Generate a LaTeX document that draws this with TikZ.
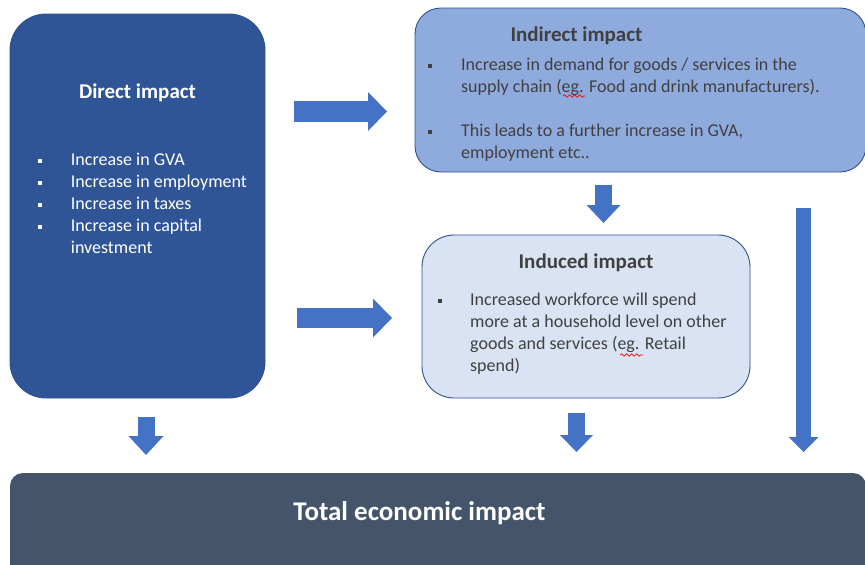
\documentclass[tikz,border=0pt]{standalone}
\usepackage{fontspec}
\setmainfont{Carlito}
\usepackage{xcolor}
\usetikzlibrary{arrows.meta,positioning,decorations.pathmorphing}

\definecolor{directblue}{HTML}{2F5597}
\definecolor{indirectblue}{HTML}{8FAADC}
\definecolor{inducedblue}{HTML}{DAE3F3}
\definecolor{totalslate}{HTML}{44546A}
\definecolor{arrowblue}{HTML}{4472C4}
\definecolor{edgeblue}{HTML}{2F528F}
\definecolor{textgray}{HTML}{404040}

\begin{document}
\begin{tikzpicture}[x=1pt, y=-1pt,
  box/.style={draw=edgeblue, line width=0.9pt, inner sep=0pt},
  title/.style={font=\fontsize{21}{25}\selectfont\bfseries, anchor=base, inner sep=0pt},
  body/.style={font=\fontsize{18}{22}\selectfont, align=left, anchor=base west, inner sep=0pt},
  bul/.style={fill, minimum size=4pt, inner sep=0pt},
  squiggle/.style={red, line width=0.7pt, decorate, decoration={snake, amplitude=1.2pt, segment length=5pt}},
  blockarrow/.style n args={3}{draw=arrowblue, line width=#1, -{Triangle[length=#2, width=#3, line width=0pt]}}]
  \clip (0,0) rectangle (865,565);

  % Boxes
  \node[box, fill=directblue, rounded corners=36pt, minimum width=255pt, minimum height=384pt] (direct) at (137.5,206) {};
  \node[box, fill=indirectblue, rounded corners=26pt, minimum width=451pt, minimum height=164pt] (indirect) at (640.5,90) {};
  \node[box, fill=inducedblue, rounded corners=32pt, minimum width=328pt, minimum height=163pt] (induced) at (586,316.5) {};
  \node[box, draw=none, fill=totalslate, rounded corners=13pt, minimum width=856pt, minimum height=110pt] (total) at (438,528) {};

  % Titles
  \node[title, text=white] (directtitle) at (137.5,98) {Direct impact};
  \node[title, text=textgray] (indirecttitle) at (576.5,41) {Indirect impact};
  \node[title, text=textgray] (inducedtitle) at (586,268) {Induced impact};
  \node[title, text=white, font=\fontsize{27}{32}\selectfont\bfseries] (totaltitle) at (419.5,520) {Total economic impact};

  % Bullet lists (anchored on the last line)
  \node[body, text=white] (directlist) at (70.7,253)
    {Increase in GVA\\Increase in employment\\Increase in taxes\\Increase in capital\\investment};
  \foreach \y [count=\i] in {165,187,209,231}
    \node[bul, white] (dbul\i) at (39.5,\y-4) {};

  \node[body, text=textgray] (indirectlist) at (461,158)
    {Increase in demand for goods / services in the\\supply chain (eg. Food and drink manufacturers).\\[22pt]This leads to a further increase in GVA,\\employment etc..};
  \foreach \y [count=\i] in {70,136}
    \node[bul, textgray] (ibul\i) at (429.5,\y-4) {};

  \node[body, text=textgray] (inducedlist) at (470,371)
    {Increased workforce will spend\\more at a household level on other\\goods and services (eg. Retail\\spend)};
  \node[bul, textgray] (nbul1) at (439.5,301) {};

  % Spelling marks
  \coordinate (s1s) at (563,96);  \coordinate (s1e) at (585,96);
  \coordinate (s2s) at (620,355); \coordinate (s2e) at (643,355);
  \draw[squiggle] (s1s) -- (s1e);
  \draw[squiggle] (s2s) -- (s2e);

  % Block arrows
  \coordinate (r1s) at (294,111.5);  \coordinate (r1e) at (387,111.5);
  \coordinate (r2s) at (297,318);    \coordinate (r2e) at (392,318);
  \coordinate (d1s) at (603.5,185);  \coordinate (d1e) at (603.5,223);
  \coordinate (d2s) at (803.5,208);  \coordinate (d2e) at (803.5,452);
  \coordinate (d3s) at (576.5,413);  \coordinate (d3e) at (576.5,452);
  \coordinate (d4s) at (146,417);    \coordinate (d4e) at (146,455);

  \draw[blockarrow={21pt}{19pt}{39pt}] (r1s) -- (r1e);
  \draw[blockarrow={20pt}{19pt}{39pt}] (r2s) -- (r2e);
  \draw[blockarrow={17pt}{18pt}{34pt}] (d1s) -- (d1e);
  \draw[blockarrow={15pt}{15pt}{30pt}] (d2s) -- (d2e);
  \draw[blockarrow={17pt}{17pt}{33pt}] (d3s) -- (d3e);
  \draw[blockarrow={17pt}{19pt}{35pt}] (d4s) -- (d4e);
\end{tikzpicture}
\end{document}
